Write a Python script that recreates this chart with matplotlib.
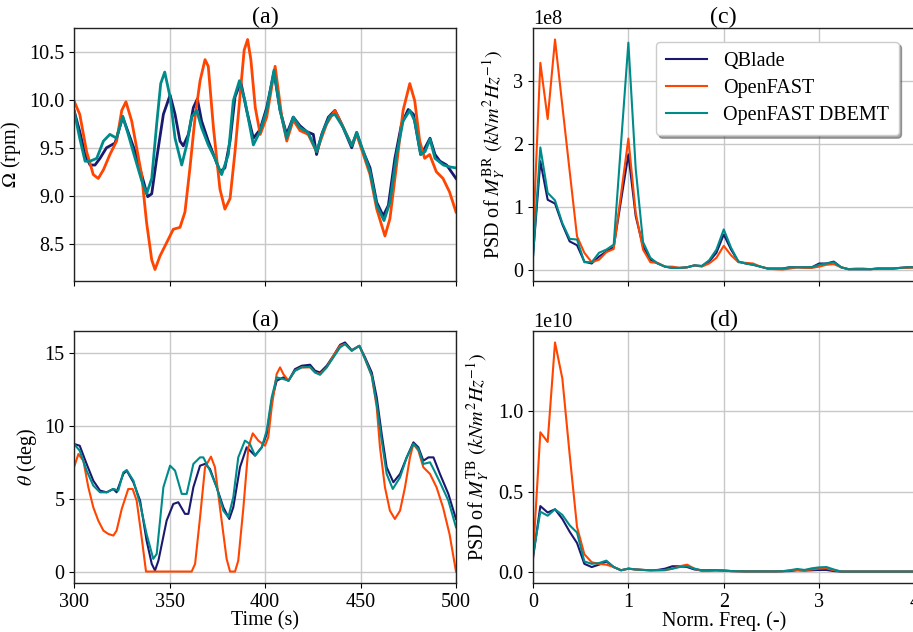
import numpy as np
import matplotlib
matplotlib.use("Agg")
import matplotlib.pyplot as plt

plt.rcParams["font.family"] = ["Liberation Serif", "DejaVu Serif"]
plt.rcParams["mathtext.fontset"] = "stix"
plt.rcParams["font.size"] = 14.5

labels = ["QBlade", "OpenFAST", "OpenFAST DBEMT"]
colors = ["#191970", "#ff4500", "#008b8b"]

# Rotor speed (rpm) vs time (s)
t_omega_qb = [300, 303, 305.8, 308.4, 311, 313.6, 317, 321.5, 325.5, 328.4, 332, 335.4, 338.6, 340.7, 343.3,
              346.8, 350.3, 352.9, 355.5, 357.2, 359.9, 362.5, 364.6, 366.8, 370.3, 373.8, 376.4, 379, 381.7,
              384.3, 387.3, 390.4, 393.9, 397.4, 400.9, 404.7, 407.9, 411.3, 414.8, 418.3, 421.8, 425.3, 427,
              429.7, 433.2, 436.6, 440.1, 445.4, 448, 450.6, 455, 458.5, 461.9, 464.6, 468, 471.5, 475, 477.7,
              481.5, 483.8, 486.4, 489, 491.6, 495.1, 500]
omega_qb = [9.89, 9.67, 9.43, 9.32, 9.32, 9.39, 9.50, 9.55, 9.82, 9.66, 9.46, 9.22, 8.99, 9.02, 9.39,
            9.85, 10.05, 9.85, 9.57, 9.52, 9.64, 9.92, 10.01, 9.78, 9.57, 9.39, 9.25, 9.29, 9.57,
            10.03, 10.19, 9.89, 9.60, 9.69, 9.92, 10.29, 9.89, 9.64, 9.82, 9.73, 9.67, 9.64, 9.43,
            9.64, 9.82, 9.89, 9.75, 9.50, 9.66, 9.50, 9.29, 8.93, 8.79, 8.90, 9.39, 9.75, 9.90, 9.85,
            9.43, 9.50, 9.60, 9.43, 9.36, 9.32, 9.18]

t_omega_of = [300, 303, 306.6, 310.1, 312.7, 315.4, 318.8, 322.3, 325, 327.2, 330.2, 332.8, 335.4, 338, 340.7,
              342.4, 345, 348.5, 352, 355.5, 358.1, 360.7, 363.4, 366, 368.6, 370.3, 373, 376.4, 379, 381.7,
              384.3, 387, 389.1, 390.9, 392.6, 394.9, 397.5, 400.9, 405.3, 408.8, 411.4, 414.8, 418.3, 422.6,
              427, 432.3, 436.6, 441, 445.4, 448, 451.5, 455, 458.5, 462.8, 465.4, 468.9, 472.3, 475.8, 478.4,
              481, 483.6, 486.2, 489.7, 493.2, 496.6, 500]
omega_of = [9.99, 9.85, 9.46, 9.22, 9.18, 9.27, 9.43, 9.57, 9.89, 9.98, 9.78, 9.50, 9.22, 8.72, 8.33,
            8.23, 8.37, 8.51, 8.65, 8.67, 8.83, 9.29, 9.82, 10.20, 10.42, 10.35, 9.71, 9.07, 8.86, 8.97,
            9.46, 10.06, 10.52, 10.63, 10.42, 9.92, 9.64, 9.82, 10.35, 9.82, 9.57, 9.79, 9.68, 9.64,
            9.46, 9.75, 9.89, 9.71, 9.53, 9.64, 9.43, 9.22, 8.86, 8.58, 8.76, 9.32, 9.89, 10.17, 9.99,
            9.57, 9.39, 9.43, 9.25, 9.18, 9.04, 8.83]

t_omega_db = [300, 303, 305.8, 308.4, 311.9, 315.4, 318.8, 322.3, 325.5, 328.4, 332, 335.4, 338, 340.7, 343.3,
              345.4, 347.5, 350.3, 352.9, 356.4, 359, 361.6, 364.2, 366.8, 370.3, 373.8, 377.3, 380.8, 383.4,
              386.6, 389.5, 393.9, 397.4, 400.9, 404.7, 407.9, 411.3, 414.8, 418.3, 422.6, 427, 430.5, 434,
              436.6, 441, 445.4, 448, 451.5, 455, 458.5, 462.3, 465.4, 468.9, 472.3, 475.8, 478.4, 481.5,
              483.8, 486.4, 489, 493.4, 496.9, 500]
omega_db = [9.89, 9.60, 9.36, 9.36, 9.39, 9.57, 9.64, 9.60, 9.83, 9.64, 9.39, 9.16, 9.02, 9.18, 9.75,
            10.17, 10.29, 10.03, 9.60, 9.32, 9.53, 9.82, 9.89, 9.71, 9.53, 9.39, 9.22, 9.43, 9.99,
            10.20, 9.99, 9.53, 9.67, 9.89, 10.31, 9.89, 9.60, 9.82, 9.71, 9.66, 9.46, 9.68, 9.83,
            9.85, 9.71, 9.52, 9.66, 9.46, 9.25, 8.90, 8.74, 8.93, 9.43, 9.78, 9.89, 9.78, 9.43,
            9.46, 9.59, 9.39, 9.32, 9.30, 9.29]

# Blade pitch (deg) vs time (s)
t_theta_qb = [300, 303, 306.6, 310.1, 313.6, 317.1, 320.6, 322.3, 325.8, 327.6, 331.1, 334.6, 338, 340.7, 342.4,
              344.2, 348.5, 352, 354.6, 358.1, 359.9, 362.5, 366, 368.6, 371.2, 374.7, 378.2, 381.3, 383.4,
              386.9, 390.4, 394.8, 398.3, 400.9, 403.5, 406.1, 409.6, 412.3, 415.7, 419.2, 423.6, 426.2,
              428.8, 432.3, 435.8, 439.3, 441.9, 445.4, 449.4, 452.4, 455.9, 458.5, 461.1, 463.7, 467.2,
              470.7, 474.2, 477.7, 480.3, 482.9, 485.6, 488.2, 491.6, 496, 500]
theta_qb = [8.76, 8.64, 7.39, 6.24, 5.56, 5.44, 5.67, 5.44, 6.70, 6.93, 6.13, 4.87, 2.13, 0.53, 0.07,
            0.75, 3.50, 4.64, 4.76, 3.96, 3.96, 5.79, 7.27, 7.39, 7.04, 5.79, 4.41, 3.61, 4.41,
            7.16, 8.53, 7.96, 8.53, 9.44, 11.73, 13.10, 13.33, 13.10, 13.90, 14.13, 14.20, 13.79,
            13.67, 14.13, 14.82, 15.57, 15.73, 15.20, 15.50, 14.70, 13.67, 11.96, 9.44, 7.16, 6.13,
            6.70, 7.84, 8.87, 8.53, 7.61, 7.84, 7.84, 6.70, 5.33, 3.60]

t_theta_of = [300, 302.3, 304.9, 307.5, 310.1, 312.7, 315.4, 318, 320.6, 322.3, 325, 328.4, 330.7, 332.8, 335.4,
              337.7, 361.6, 363.4, 366, 368.6, 371.7, 373.8, 376.4, 379.9, 381.7, 384.3, 386, 388.7, 391.3,
              393.6, 396.5, 400, 401.7, 403.5, 406.1, 407.9, 409.6, 412.3, 415.7, 419.2, 423.6, 426.2,
              428.8, 432.3, 435.8, 439.3, 441.9, 445.4, 449.4, 452.4, 455.9, 458.5, 460.2, 462.8, 465.4,
              468, 470.7, 473.3, 475.9, 477.7, 480.3, 482.9, 486.4, 489.8, 493.2, 496.6, 500]
theta_of = [7.16, 8.07, 7.61, 5.79, 4.41, 3.50, 2.81, 2.58, 2.47, 2.81, 4.30, 5.67, 5.67, 4.87, 2.36,
            0.0, 0.0, 0.53, 3.73, 7.16, 7.89, 7.16, 4.41, 0.87, 0.0, 0.0, 0.75, 4.41, 8.53,
            9.49, 8.99, 8.64, 9.22, 11.27, 13.56, 14.02, 13.56, 13.10, 13.79, 14.02, 14.02, 13.67,
            13.56, 14.02, 14.82, 15.50, 15.62, 15.16, 15.50, 14.59, 13.44, 11.27, 8.53, 5.79, 4.18,
            3.61, 4.18, 5.79, 7.84, 8.76, 8.30, 7.16, 6.70, 5.79, 4.41, 2.58, 0.0]

t_theta_db = [300, 303, 306.6, 310.1, 313.6, 317.1, 320.6, 323.2, 325.8, 327.6, 331.1, 334.6, 338, 341.5, 343.3,
              346.8, 350.3, 352.9, 356.4, 359, 362.5, 366, 367.7, 371.2, 374.7, 378.2, 380.8, 383.4, 386,
              389.5, 392.1, 394.8, 398.3, 400.9, 403.5, 406.1, 409.6, 412.3, 415.7, 419.2, 423.6, 426.2,
              428.8, 432.3, 435.8, 439.3, 441.9, 445.4, 449.4, 452.4, 455.9, 458.5, 461.1, 463.7, 466.9,
              470.7, 474.2, 477.7, 480.3, 482.9, 486.4, 488.2, 491.6, 496, 500]
theta_db = [8.76, 8.30, 6.93, 5.90, 5.44, 5.44, 5.67, 5.56, 6.81, 6.97, 6.24, 4.64, 2.58, 0.87, 1.21,
            5.79, 7.27, 6.93, 5.33, 5.33, 7.39, 7.84, 7.84, 6.93, 5.79, 4.18, 3.73, 5.10, 7.84,
            8.99, 8.76, 7.96, 8.53, 9.67, 11.96, 13.33, 13.22, 13.10, 13.79, 14.02, 14.06, 13.67,
            13.51, 14.02, 14.70, 15.39, 15.62, 15.16, 15.50, 14.59, 13.44, 11.50, 8.99, 6.70, 5.67,
            6.47, 7.84, 8.76, 8.42, 7.39, 7.50, 7.04, 6.13, 4.87, 3.04]

# Normalised frequency bins (rotor frequency = 1)
freq = [k / 13 for k in range(53)]

# PSD of blade-root bending moment
psd_br_qb = [0.22, 1.72, 1.11, 1.05, 0.72, 0.45, 0.39, 0.13, 0.10, 0.21, 0.29, 0.36, 1.10, 1.83, 0.85,
             0.37, 0.16, 0.10, 0.05, 0.03, 0.03, 0.04, 0.07, 0.06, 0.13, 0.27, 0.56, 0.32, 0.13, 0.10,
             0.08, 0.05, 0.02, 0.02, 0.02, 0.04, 0.04, 0.04, 0.04, 0.10, 0.10, 0.13, 0.04, 0.01, 0.01,
             0.01, 0.01, 0.02, 0.02, 0.02, 0.03, 0.04, 0.04]
psd_br_of = [0.50, 3.28, 2.39, 3.65, 2.60, 1.56, 0.53, 0.27, 0.12, 0.16, 0.28, 0.33, 1.20, 2.08, 0.90,
             0.32, 0.12, 0.11, 0.05, 0.05, 0.03, 0.04, 0.07, 0.05, 0.10, 0.19, 0.38, 0.23, 0.12, 0.11,
             0.10, 0.05, 0.02, 0.01, 0.005, 0.02, 0.04, 0.03, 0.03, 0.05, 0.08, 0.09, 0.04, 0.01, 0.02,
             0.02, 0.01, 0.02, 0.02, 0.02, 0.03, 0.03, 0.04]
psd_br_db = [0.20, 1.94, 1.22, 1.10, 0.74, 0.49, 0.48, 0.12, 0.12, 0.27, 0.32, 0.40, 2.00, 3.60, 1.60,
             0.44, 0.19, 0.10, 0.05, 0.03, 0.03, 0.04, 0.07, 0.06, 0.15, 0.32, 0.64, 0.35, 0.13, 0.10,
             0.08, 0.05, 0.02, 0.02, 0.02, 0.04, 0.04, 0.04, 0.04, 0.08, 0.10, 0.12, 0.04, 0.01, 0.01,
             0.01, 0.01, 0.02, 0.02, 0.02, 0.03, 0.04, 0.04]

# PSD of tower-base bending moment
psd_tb_qb = [0.085, 0.41, 0.37, 0.39, 0.33, 0.25, 0.18, 0.05, 0.03, 0.045, 0.065, 0.03, 0.01, 0.02, 0.015,
             0.012, 0.01, 0.012, 0.02, 0.035, 0.035, 0.03, 0.015, 0.01, 0.01, 0.01, 0.008, 0.005, 0.004,
             0.003, 0.003, 0.003, 0.003, 0.003, 0.004, 0.005, 0.01, 0.008, 0.01, 0.012, 0.012, 0.005,
             0.002, 0.002, 0.002, 0.002, 0.002, 0.002, 0.002, 0.002, 0.002, 0.002, 0.002]
psd_tb_of = [0.095, 0.87, 0.81, 1.43, 1.205, 0.73, 0.28, 0.11, 0.06, 0.05, 0.045, 0.03, 0.01, 0.02, 0.015,
             0.012, 0.01, 0.01, 0.01, 0.02, 0.035, 0.045, 0.02, 0.005, 0.005, 0.01, 0.008, 0.005, 0.004,
             0.003, 0.003, 0.003, 0.003, 0.003, 0.004, 0.008, 0.012, 0.01, 0.015, 0.02, 0.022, 0.01,
             0.002, 0.002, 0.002, 0.002, 0.002, 0.002, 0.002, 0.002, 0.002, 0.002, 0.002]
psd_tb_db = [0.105, 0.375, 0.35, 0.39, 0.355, 0.29, 0.245, 0.065, 0.05, 0.055, 0.07, 0.03, 0.01, 0.02, 0.015,
             0.012, 0.01, 0.01, 0.012, 0.02, 0.03, 0.035, 0.02, 0.01, 0.01, 0.01, 0.008, 0.005, 0.004,
             0.003, 0.003, 0.003, 0.003, 0.003, 0.004, 0.01, 0.018, 0.012, 0.022, 0.028, 0.03, 0.015,
             0.002, 0.002, 0.002, 0.002, 0.002, 0.002, 0.002, 0.002, 0.002, 0.002, 0.002]

fig = plt.figure(figsize=(9.13, 6.32), dpi=100)
W, H = 913, 632


def px_axes(x0, y0, x1, y1):
    return fig.add_axes([x0 / W, 1 - y1 / H, (x1 - x0) / W, (y1 - y0) / H])


ax_om = px_axes(74, 28, 456, 281)
ax_th = px_axes(74, 331, 456, 583)
ax_br = px_axes(533, 28, 914.5, 281)
ax_tb = px_axes(533, 331, 914.5, 583)

for ax in (ax_om, ax_th, ax_br, ax_tb):
    ax.grid(True, color="#c8c8c8", linewidth=1.0)
    ax.set_axisbelow(True)
    for s in ax.spines.values():
        s.set_linewidth(1.0)
        s.set_color("#222222")

# Time series
ax_om.plot(t_omega_qb, omega_qb, color=colors[0], lw=2.0)
ax_om.plot(t_omega_of, omega_of, color=colors[1], lw=2.0)
ax_om.plot(t_omega_db, omega_db, color=colors[2], lw=2.0)
ax_om.set_xlim(300, 500)
ax_om.set_xticks([300, 350, 400, 450, 500])
ax_om.tick_params(labelbottom=False)
ax_om.set_yticks([8.5, 9.0, 9.5, 10.0, 10.5])
ax_om.set_ylabel(r"$\Omega$ (rpm)")
ax_om.set_title("(a)", pad=1)

ax_th.plot(t_theta_qb, theta_qb, color=colors[0], lw=1.5)
ax_th.plot(t_theta_of, theta_of, color=colors[1], lw=1.5)
ax_th.plot(t_theta_db, theta_db, color=colors[2], lw=1.5)
ax_th.set_xlim(300, 500)
ax_th.set_xticks([300, 350, 400, 450, 500])
ax_th.set_yticks([0, 5, 10, 15])
ax_th.set_ylabel(r"$\theta$ (deg)")
ax_th.set_xlabel("Time (s)", labelpad=0)
ax_th.set_title("(a)", pad=1)

# Spectra
f = np.array(freq)
ax_br.plot(f, np.array(psd_br_qb) * 1e8, color=colors[0], lw=1.5, label=labels[0])
ax_br.plot(f, np.array(psd_br_of) * 1e8, color=colors[1], lw=1.5, label=labels[1])
ax_br.plot(f, np.array(psd_br_db) * 1e8, color=colors[2], lw=1.5, label=labels[2])
ax_br.set_xlim(0, 4)
ax_br.set_xticks([0, 1, 2, 3, 4])
ax_br.tick_params(labelbottom=False)
ax_br.set_ylabel(r"PSD of $M_Y^{\mathrm{BR}}$ $(kNm^2Hz^{-1})$")
ax_br.set_title("(c)", pad=1)
ax_br.legend(loc="upper right", shadow=True, fancybox=True, fontsize=14.5,
             borderpad=0.5, handlelength=2.0, labelspacing=0.4,
             bbox_to_anchor=(0.985, 0.985))

ax_tb.plot(f, np.array(psd_tb_qb) * 1e10, color=colors[0], lw=1.5)
ax_tb.plot(f, np.array(psd_tb_of) * 1e10, color=colors[1], lw=1.5)
ax_tb.plot(f, np.array(psd_tb_db) * 1e10, color=colors[2], lw=1.5)
ax_tb.set_xlim(0, 4)
ax_tb.set_xticks([0, 1, 2, 3, 4])
ax_tb.set_yticks([0, 0.5e10, 1.0e10])
ax_tb.set_ylabel(r"PSD of $M_Y^{\mathrm{TB}}$ $(kNm^2Hz^{-1})$")
ax_tb.set_xlabel("Norm. Freq. (-)", labelpad=0)
ax_tb.set_title("(d)", pad=1)

fig.savefig("out.png", dpi=100)
